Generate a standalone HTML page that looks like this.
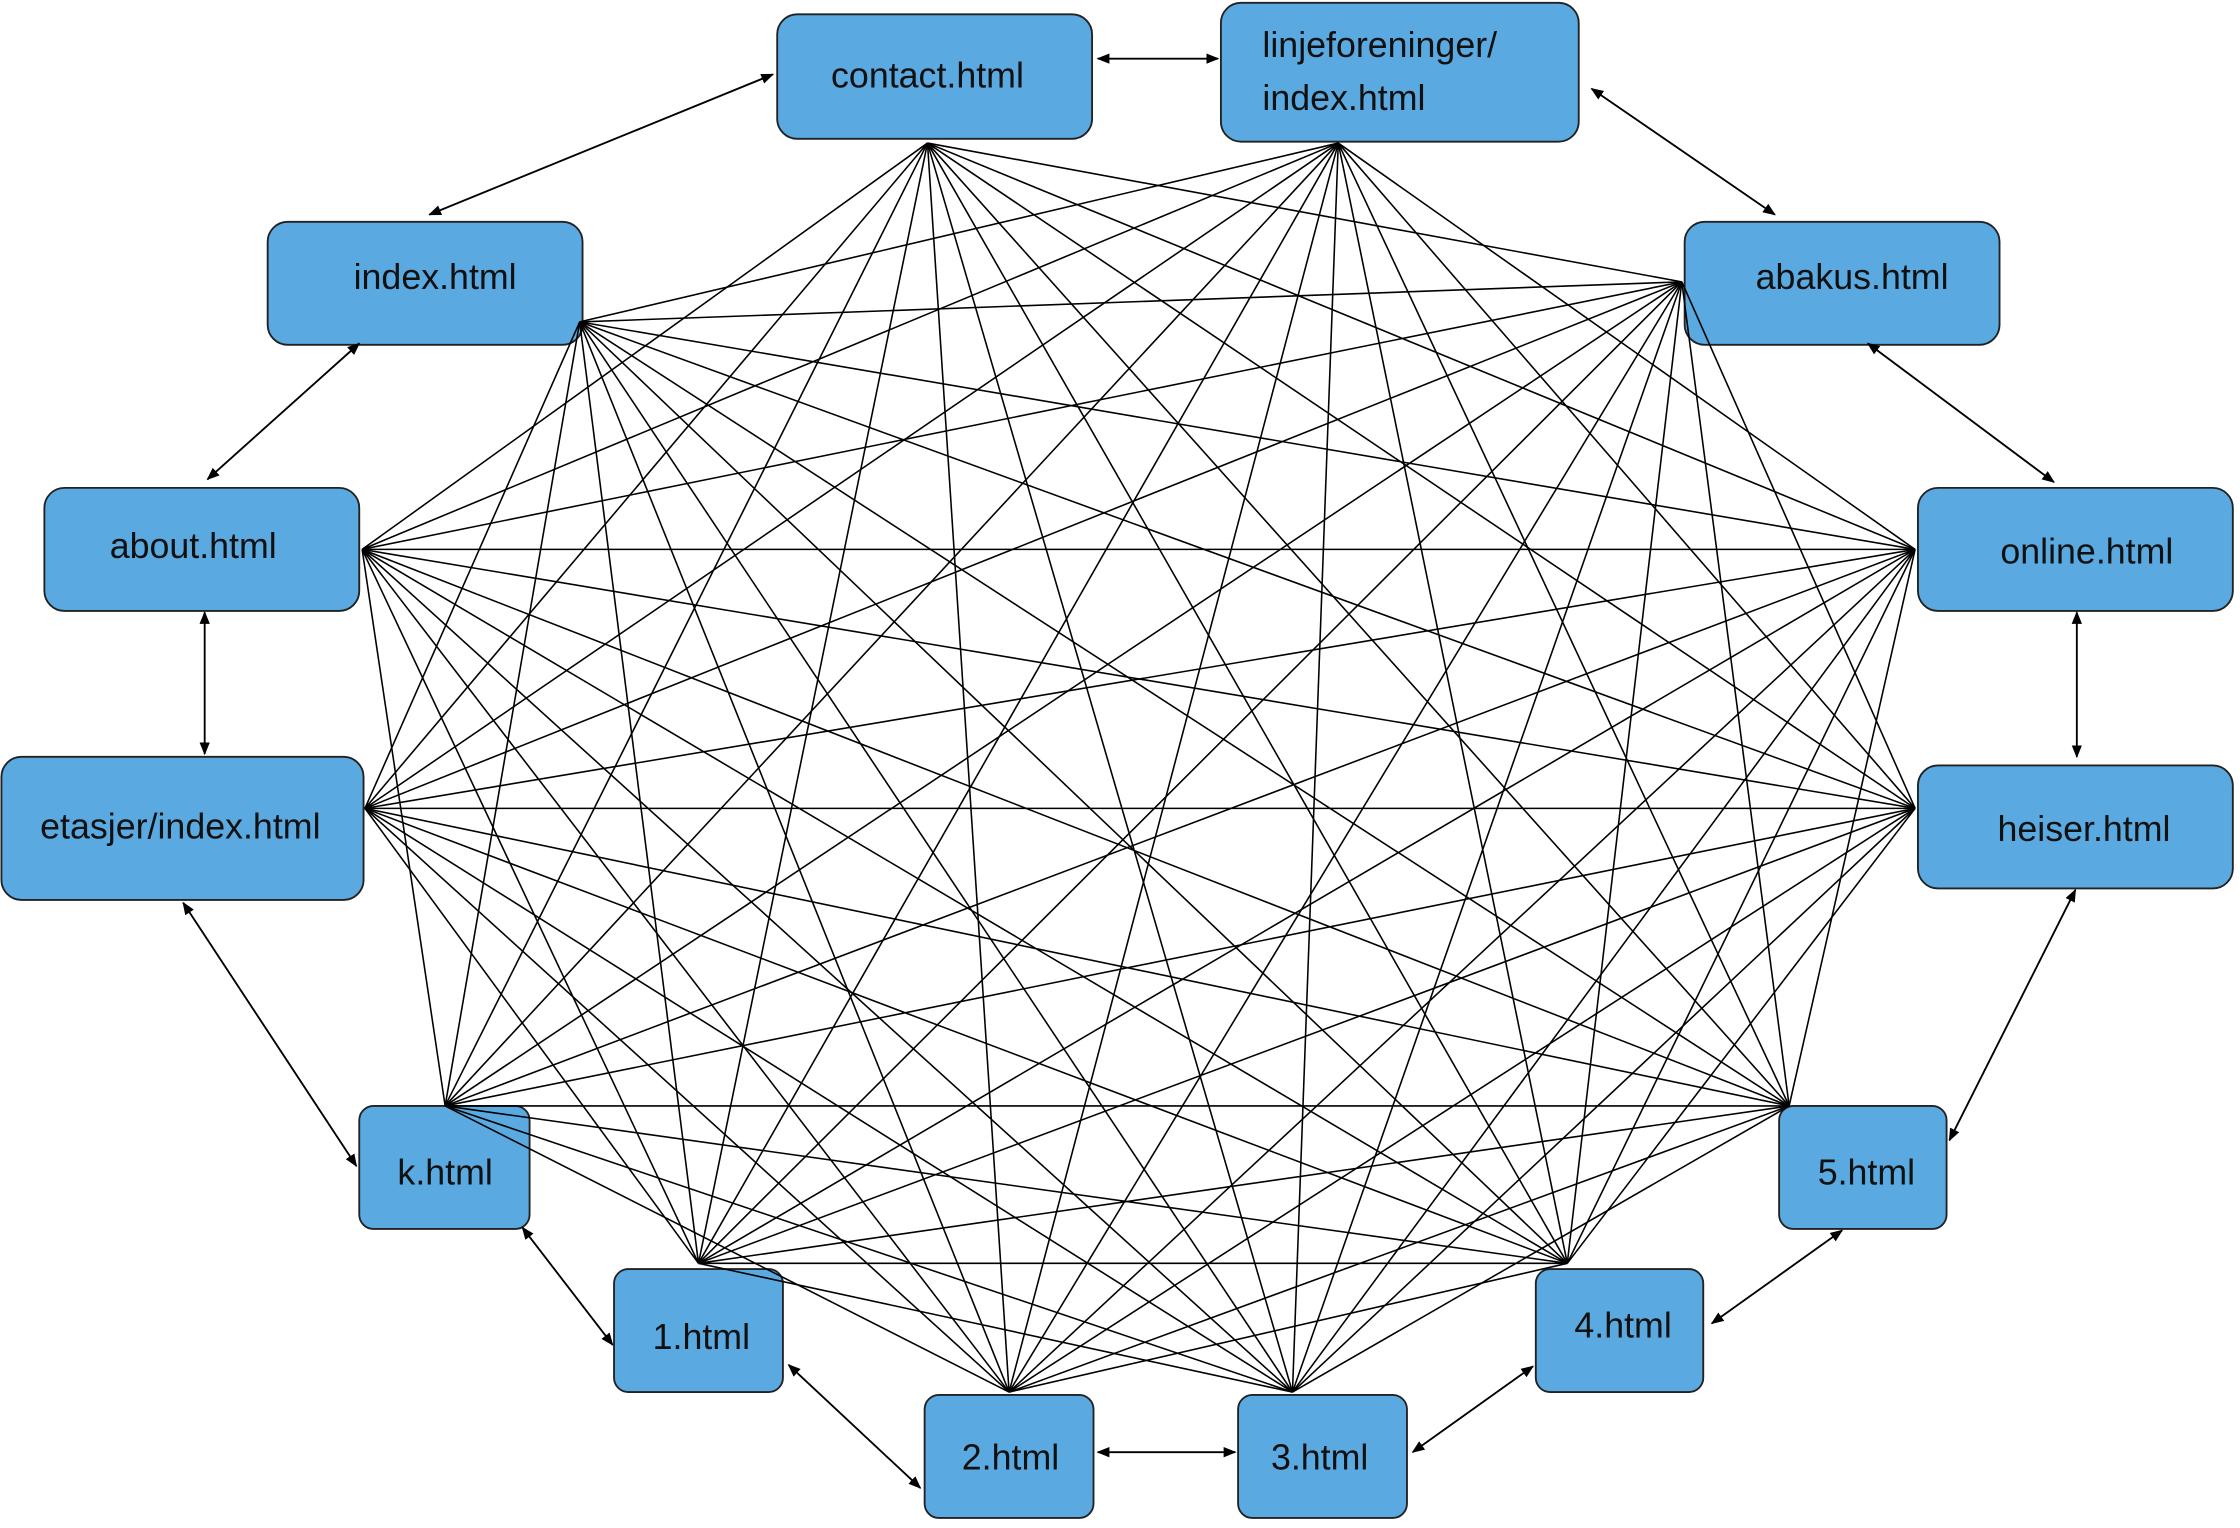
<!DOCTYPE html>
<html><head><meta charset="utf-8">
<style>
html,body{margin:0;padding:0;background:#fff;}
svg{display:block;}
text{font-family:"Liberation Sans",sans-serif;font-size:25px;fill:#111;}
</style></head>
<body>
<svg id="s" width="2240" height="1528" viewBox="0 0 1565 1068" preserveAspectRatio="none" xmlns="http://www.w3.org/2000/svg">
<defs>
<marker id="a" viewBox="0 0 10 10" refX="9" refY="5" markerWidth="9" markerHeight="9" orient="auto-start-reverse" markerUnits="userSpaceOnUse">
<path d="M0,1 L10,5 L0,9 z" fill="#000"/>
</marker>
</defs>
<g fill="#5aa9e0" stroke="#222" stroke-width="1.3">
<rect x="543" y="10" width="220" height="87" rx="14"/>
<rect x="853" y="2" width="250" height="97" rx="14"/>
<rect x="187" y="155" width="220" height="86" rx="14"/>
<rect x="1177" y="155" width="220" height="86" rx="14"/>
<rect x="31" y="341" width="220" height="86" rx="14"/>
<rect x="1340" y="341" width="220" height="86" rx="14"/>
<rect x="1" y="529" width="253" height="100" rx="14"/>
<rect x="1340" y="535" width="220" height="86" rx="14"/>
<rect x="251" y="773" width="119" height="86" rx="10"/>
<rect x="1243" y="773" width="117" height="86" rx="10"/>
<rect x="429" y="887" width="118" height="86" rx="10"/>
<rect x="1073" y="887" width="117" height="86" rx="10"/>
<rect x="646" y="975" width="118" height="86" rx="10"/>
<rect x="865" y="975" width="118" height="86" rx="10"/>
</g>
<g id="mesh" stroke="#000" stroke-width="1.1"></g>
<g stroke="#000" stroke-width="1.3" marker-start="url(#a)" marker-end="url(#a)">
<line x1="540" y1="52" x2="300" y2="150"/>
<line x1="767" y1="41" x2="851" y2="41"/>
<line x1="1112" y1="62" x2="1240" y2="150"/>
<line x1="251" y1="240" x2="145" y2="335"/>
<line x1="1305" y1="240" x2="1435" y2="337"/>
<line x1="143" y1="428" x2="143" y2="527"/>
<line x1="1451" y1="428" x2="1451" y2="529"/>
<line x1="128" y1="631" x2="249" y2="815"/>
<line x1="1450" y1="622" x2="1362" y2="797"/>
<line x1="365" y1="858" x2="428" y2="940"/>
<line x1="1287" y1="860" x2="1196" y2="925"/>
<line x1="551" y1="954" x2="643" y2="1040"/>
<line x1="1071" y1="955" x2="987" y2="1015"/>
<line x1="767" y1="1015" x2="863" y2="1015"/>
</g>
<g text-anchor="middle">
<text x="648" y="61">contact.html</text>
<text x="304" y="202">index.html</text>
<text x="1294" y="202">abakus.html</text>
<text x="135" y="390">about.html</text>
<text x="1458" y="394">online.html</text>
<text x="126" y="586">etasjer/index.html</text>
<text x="1456" y="588">heiser.html</text>
<text x="311" y="828">k.html</text>
<text x="1304" y="828">5.html</text>
<text x="490" y="943">1.html</text>
<text x="1134" y="935">4.html</text>
<text x="706" y="1027">2.html</text>
<text x="922" y="1027">3.html</text>
</g>
<text x="882" y="40">linjeforeninger/</text>
<text x="882" y="77">index.html</text>
</svg>
<script>
var p=[[648,100],[935,100],[405,225],[1175,197],[253,384],[1338,384],[255,565],[1338,565],[311,773],[1250,773],[488,883],[1095,883],[705,973],[903,973]];
var ring=[[0,1],[1,3],[3,5],[5,7],[7,9],[9,11],[11,13],[13,12],[12,10],[10,8],[8,6],[6,4],[4,2],[2,0]];
var skip={};ring.forEach(function(e){skip[Math.min(e[0],e[1])+'-'+Math.max(e[0],e[1])]=1;});
var g=document.getElementById('mesh'),ns="http://www.w3.org/2000/svg";
for(var i=0;i<p.length;i++)for(var j=i+1;j<p.length;j++){
if(skip[i+'-'+j])continue;
var l=document.createElementNS(ns,'line');
l.setAttribute('x1',p[i][0]);l.setAttribute('y1',p[i][1]);
l.setAttribute('x2',p[j][0]);l.setAttribute('y2',p[j][1]);
g.appendChild(l);}
</script>
</body></html>
